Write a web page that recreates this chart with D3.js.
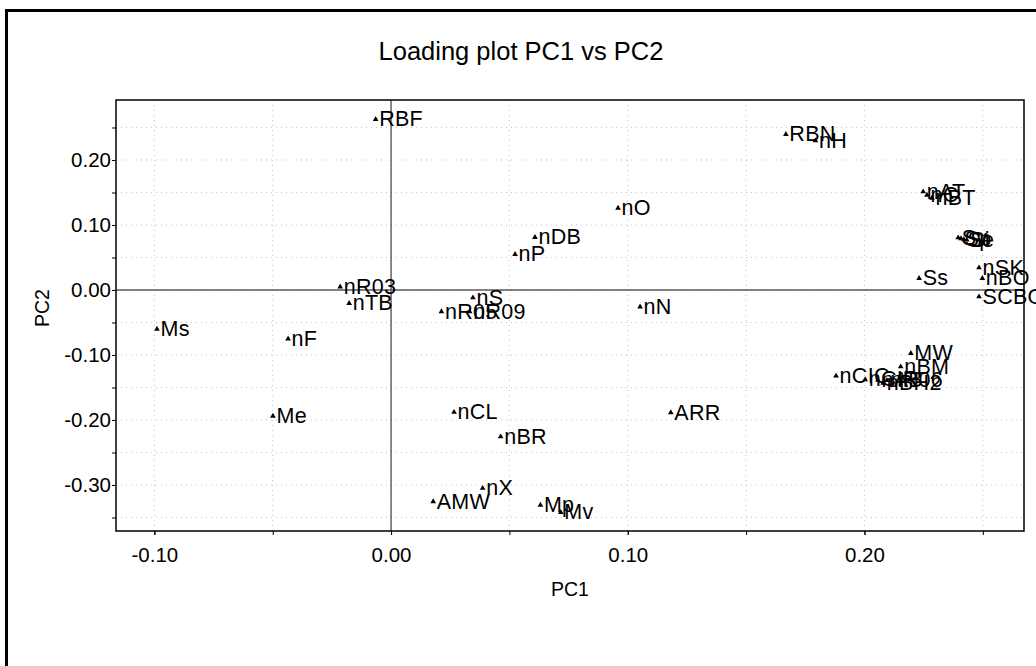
<!DOCTYPE html>
<html>
<head>
<meta charset="utf-8">
<script src="https://cdn.jsdelivr.net/npm/d3@7"></script>
<style>
    html, body { margin: 0; padding: 0; background: #fff; }
    svg { display: block; font-family: Arial, "Liberation Sans", sans-serif; }
</style>
</head>
<body>
<svg id="chart" width="1036" height="666"></svg>
<script>
// descriptor loadings
const LABELS = ['RBF', 'RBN', 'nH', 'nAT', 'nC', 'nBT', 'Sv', 'Sp', 'Se', 'Si',
    'nO', 'nDB', 'nP', 'nSK', 'nBO', 'Ss', 'SCBO', 'nR03', 'nTB', 'nS',
    'nR05', 'nR09', 'nN', 'Ms', 'nF', 'Me', 'nCL', 'nBR', 'ARR', 'nX',
    'AMW', 'Mp', 'Mv', 'MW', 'nBM', 'nCIC', 'nCIR', 'nAB', 'nR06', 'nBH2'];
const PC1 = [-0.0065, 0.1668, 0.1793, 0.2248, 0.2264, 0.2285, 0.2396, 0.2408, 0.2420, 0.2432,
    0.0959, 0.0608, 0.0524, 0.2484, 0.2498, 0.2231, 0.2484, -0.0215, -0.0177, 0.0346,
    0.0213, 0.0332, 0.1052, -0.0989, -0.0435, -0.0499, 0.0266, 0.0463, 0.1182, 0.0387,
    0.0178, 0.0631, 0.0717, 0.2196, 0.2153, 0.1880, 0.2003, 0.2057, 0.2095, 0.2079];
const PC2 = [0.2626, 0.2395, 0.2297, 0.1512, 0.1460, 0.1415, 0.0805, 0.0790, 0.0775, 0.0770,
    0.1260, 0.0810, 0.0549, 0.0343, 0.0180, 0.0180, -0.0103, 0.0050, -0.0205, -0.0118,
    -0.0333, -0.0333, -0.0260, -0.0600, -0.0750, -0.1940, -0.1880, -0.2257, -0.1885, -0.3050,
    -0.3256, -0.3308, -0.3420, -0.0974, -0.1180, -0.1323, -0.1377, -0.1385, -0.1392, -0.1431];

const X_TICKS = [-0.10, 0.00, 0.10, 0.20];
const Y_TICKS = [-0.30, -0.20, -0.10, 0.00, 0.10, 0.20];
const X_MINOR = [-0.10, -0.05, 0.00, 0.05, 0.10, 0.15, 0.20, 0.25];
const Y_MINOR = [-0.35, -0.30, -0.25, -0.20, -0.15, -0.10, -0.05, 0.00, 0.05, 0.10, 0.15, 0.20, 0.25];

const PLOT_LEFT = 116;
const PLOT_RIGHT = 1024;
const PLOT_TOP = 100;
const PLOT_BOTTOM = 531;
const FONT_TICK = 20.5;
const FONT_LABEL = 21.5;

const svg = d3.select('#chart');

// outer frame (runs past the right and bottom edge)
svg.append('rect')
    .attr('x', 6.5)
    .attr('y', 10.5)
    .attr('width', 1100)
    .attr('height', 700)
    .attr('fill', 'none')
    .attr('stroke', '#000')
    .attr('stroke-width', 3);

const x = d3.scaleLinear().domain([-0.1162, 0.2674]).range([PLOT_LEFT, PLOT_RIGHT]);
const y = d3.scaleLinear().domain([-0.3708, 0.2923]).range([PLOT_BOTTOM, PLOT_TOP]);

const g = svg.append('g');

// dotted grid
g.selectAll('.vgrid').data(X_MINOR).enter().append('line')
    .attr('x1', d => x(d)).attr('x2', d => x(d))
    .attr('y1', PLOT_TOP).attr('y2', PLOT_BOTTOM)
    .attr('stroke', '#c4c4c4')
    .attr('stroke-dasharray', '1,4');
g.selectAll('.hgrid').data(Y_MINOR).enter().append('line')
    .attr('x1', PLOT_LEFT).attr('x2', PLOT_RIGHT)
    .attr('y1', d => y(d)).attr('y2', d => y(d))
    .attr('stroke', '#c4c4c4')
    .attr('stroke-dasharray', '1,4');

// zero lines
g.append('line')
    .attr('x1', x(0)).attr('x2', x(0))
    .attr('y1', PLOT_TOP).attr('y2', PLOT_BOTTOM)
    .attr('stroke', '#5a5a5a').attr('stroke-width', 1.4);
g.append('line')
    .attr('x1', PLOT_LEFT).attr('x2', PLOT_RIGHT)
    .attr('y1', y(0)).attr('y2', y(0))
    .attr('stroke', '#5a5a5a').attr('stroke-width', 1.4);

// plain hyphen minus, as in the original
const fmt = d => d.toFixed(2);

// axes: minor ticks, then labelled ticks
const xMinor = g.append('g')
    .attr('transform', `translate(0,${PLOT_BOTTOM})`)
    .call(d3.axisBottom(x).tickValues(X_MINOR).tickSize(4).tickFormat(''));
const xMajor = g.append('g')
    .attr('transform', `translate(0,${PLOT_BOTTOM})`)
    .call(d3.axisBottom(x).tickValues(X_TICKS).tickSize(4).tickPadding(12).tickFormat(fmt));
const yMinor = g.append('g')
    .attr('transform', `translate(${PLOT_LEFT},0)`)
    .call(d3.axisLeft(y).tickValues(Y_MINOR).tickSize(4).tickFormat(''));
const yMajor = g.append('g')
    .attr('transform', `translate(${PLOT_LEFT},0)`)
    .call(d3.axisLeft(y).tickValues(Y_TICKS).tickSize(4).tickPadding(1).tickFormat(fmt));

[xMinor, xMajor, yMinor, yMajor].forEach(function (axis) {
    axis.select('.domain').remove();
    axis.selectAll('line').attr('stroke', '#000');
    axis.selectAll('text')
        .attr('fill', '#000')
        .attr('font-family', 'Arial, "Liberation Sans", sans-serif')
        .attr('font-size', FONT_TICK);
});

// plot frame
g.append('rect')
    .attr('x', PLOT_LEFT)
    .attr('y', PLOT_TOP)
    .attr('width', PLOT_RIGHT - PLOT_LEFT)
    .attr('height', PLOT_BOTTOM - PLOT_TOP)
    .attr('fill', 'none')
    .attr('stroke', '#000')
    .attr('stroke-width', 1.5);

// points + labels
const triangle = d3.symbol().type(d3.symbolTriangle).size(14);
const points = LABELS.map((name, i) => ({ name: name, pc1: PC1[i], pc2: PC2[i] }));

g.selectAll('.marker').data(points).enter().append('path')
    .attr('d', triangle)
    .attr('transform', d => `translate(${x(d.pc1)},${y(d.pc2)})`)
    .attr('fill', '#000');

g.selectAll('.label').data(points).enter().append('text')
    .text(d => d.name)
    .attr('x', d => x(d.pc1) + 3.5)
    .attr('y', d => y(d.pc2) + 7)
    .attr('font-size', FONT_LABEL)
    .attr('letter-spacing', 0.3)
    .attr('fill', '#000');

// titles
svg.append('text')
    .text('Loading plot PC1 vs PC2')
    .attr('x', 521)
    .attr('y', 60)
    .attr('text-anchor', 'middle')
    .attr('font-size', 25.5);

svg.append('text')
    .text('PC1')
    .attr('x', (PLOT_LEFT + PLOT_RIGHT) / 2)
    .attr('y', 596)
    .attr('text-anchor', 'middle')
    .attr('font-size', 19.5);

svg.append('text')
    .text('PC2')
    .attr('transform', 'translate(49,308) rotate(-90)')
    .attr('text-anchor', 'middle')
    .attr('font-size', 19.5);
</script>
</body>
</html>
